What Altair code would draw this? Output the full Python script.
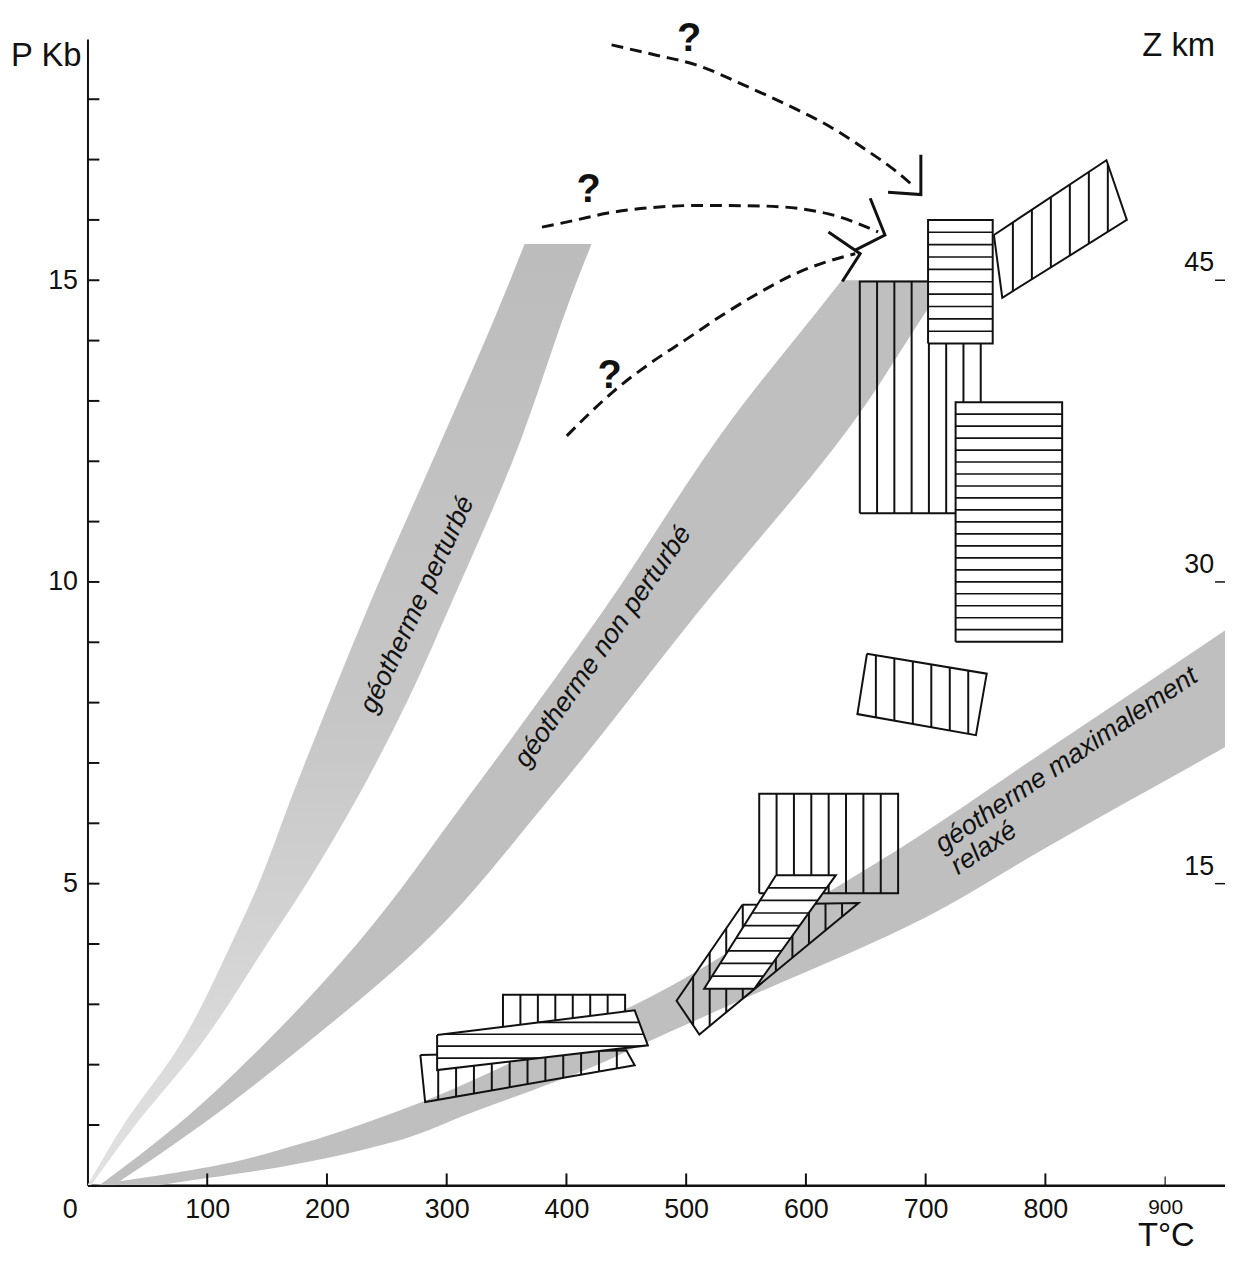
import altair as alt
import pandas as pd

FONT = "Liberation Sans"
INK = "#111111"
SHADE = "#bfbfbf"

# ---------------- axes ----------------
T_DOMAIN = [0, 950]
P_DOMAIN = [0, 19]
X_LABEL_VALUES = [0, 100, 200, 300, 400, 500, 600, 700, 800, 900]
X_TICK_VALUES = [100, 200, 300, 400, 500, 600, 700, 800]
X_SMALL_TICK_VALUES = [900]
Y_LABEL_VALUES = [5, 10, 15]
Y_TICK_VALUES = list(range(1, 19))
Z_LABELS = ["15", "30", "45"]
Z_AT_P = [5, 10, 15]

# ---------------- geotherm bands (P, left T, right T) ----------------
BAND1_P = [0, 1.0, 2.29, 4.0, 5.0, 6.41, 8.06, 9.7, 12.0, 15.0, 15.6]
BAND1_TL = [0, 30, 76, 120, 143, 170, 203, 237, 288, 353, 365]
BAND1_TR = [3, 40, 93, 150, 183, 225, 268, 305, 355, 409, 421]

BAND2_P = [0, 1.0, 2.29, 4.0, 6.41, 9.5, 12.8, 14.5, 15.0]
BAND2_TL = [10, 75, 145, 225, 317, 430, 542, 610, 630]
BAND2_TR = [22, 95, 179, 280, 386, 510, 645, 701, 718]

BAND3_P = [0, 0.12, 0.3, 0.7, 1.2, 2.0, 2.29, 3.0, 4.43, 5.58, 7.27, 9.21]
BAND3_TL = [5, 45, 100, 180, 255, 350, 380, 458, 582, 678, 805, 951]
BAND3_TR = [60, 100, 160, 252, 320, 426, 458, 538, 699, 799, 951, 1126]

LBL_TEXT = ["géotherme perturbé", "géotherme non perturbé",
            "géotherme maximalement", "relaxé"]
LBL_T = [240, 367, 714, 727]
LBL_P = [7.8, 6.9, 5.5, 5.14]
LBL_ANGLE = [295, 305, 326, 326]

# ---------------- hatched P-T domains (vertices) ----------------
A_T = [645, 746, 746, 645];   A_P = [11.14, 11.14, 14.98, 14.98]
B_T = [702, 756, 756, 702];   B_P = [13.95, 13.95, 16.0, 16.0]
K_T = [757, 851, 868, 764];   K_P = [15.75, 16.99, 16.0, 14.71]
C_T = [725, 814, 814, 725];   C_P = [9.01, 9.01, 12.98, 12.98]
D_T = [651, 751, 742, 643];   D_P = [8.81, 8.48, 7.46, 7.81]
E_T = [561, 677, 677, 561];   E_P = [4.84, 4.84, 6.49, 6.49]
F_T = [575, 625, 557, 515];   F_P = [5.14, 5.14, 3.26, 3.26]
G_T = [547, 644, 511, 492];   G_P = [4.65, 4.68, 2.5, 3.06]
H1_T = [347, 449, 449, 347];  H1_P = [2.55, 2.55, 3.16, 3.16]
H2_T = [292, 457, 468, 292];  H2_P = [2.49, 2.9, 2.32, 1.91]
H3_T = [278, 450, 457, 282];  H3_P = [2.16, 2.24, 1.99, 1.38]

# (name, T, P, number of hatch strips)
VERTICAL_SHAPES = [("A", A_T, A_P, 7), ("K", K_T, K_P, 7), ("D", D_T, D_P, 7),
                   ("E", E_T, E_P, 8), ("G", G_T, G_P, 11),
                   ("H1", H1_T, H1_P, 7), ("H3", H3_T, H3_P, 12)]
HORIZONTAL_SHAPES = [("B", B_T, B_P, 10), ("C", C_T, C_P, 20),
                     ("F", F_T, F_P, 9), ("H2", H2_T, H2_P, 5)]

# ---------------- dashed P-T paths ----------------
C1_T = [437.7, 475.1, 508.3, 549.8, 591.4, 618.8, 649.5, 674.4, 691.0]
C1_P = [18.90, 18.73, 18.57, 18.22, 17.84, 17.56, 17.17, 16.82, 16.54]
C2_T = [379.6, 408.6, 433.6, 475.1, 508.3, 564.0, 618.8, 660.3]
C2_P = [15.88, 16.0, 16.11, 16.21, 16.24, 16.23, 16.10, 15.80]
C3_T = [400.3, 417.0, 439.4, 466.8, 500.0, 530.0, 558.1, 591.4, 616.3, 641.2]
C3_P = [12.42, 12.75, 13.16, 13.58, 14.02, 14.42, 14.76, 15.11, 15.30, 15.44]

AH1_T = [696, 696, 668.6];   AH1_P = [17.08, 16.42, 16.46]
AH2_T = [653.7, 666, 641.2]; AH2_P = [16.36, 15.75, 15.5]
AH3_T = [618.8, 645.3, 630.4]; AH3_P = [15.8, 15.44, 14.98]

Q_T = [502.5, 418.6, 436.0]
Q_P = [19.0, 16.5, 13.41]


# ---------------- geometry helpers ----------------
def cut_at_T(Ts, Ps, t):
    vals = []
    n = len(Ts)
    for i in range(n):
        t1, p1, t2, p2 = Ts[i], Ps[i], Ts[(i + 1) % n], Ps[(i + 1) % n]
        if abs(t2 - t1) < 1e-9:
            if abs(t - t1) < 1e-9:
                vals += [p1, p2]
            continue
        if min(t1, t2) - 1e-9 <= t <= max(t1, t2) + 1e-9:
            vals.append(p1 + (t - t1) / (t2 - t1) * (p2 - p1))
    return min(vals), max(vals)


def cut_at_P(Ts, Ps, p):
    vals = []
    n = len(Ts)
    for i in range(n):
        t1, p1, t2, p2 = Ts[i], Ps[i], Ts[(i + 1) % n], Ps[(i + 1) % n]
        if abs(p2 - p1) < 1e-9:
            if abs(p - p1) < 1e-9:
                vals += [t1, t2]
            continue
        if min(p1, p2) - 1e-9 <= p <= max(p1, p2) + 1e-9:
            vals.append(t1 + (p - p1) / (p2 - p1) * (t2 - t1))
    return min(vals), max(vals)


# ---------------- tables ----------------
def band_df(name, Ps, TL, TR):
    return pd.DataFrame({"band": name, "P": Ps, "TL": TL, "TR": TR})


band1_df = band_df("b1", BAND1_P, BAND1_TL, BAND1_TR)
band23_df = pd.concat([band_df("b2", BAND2_P, BAND2_TL, BAND2_TR),
                       band_df("b3", BAND3_P, BAND3_TL, BAND3_TR)], ignore_index=True)

labels_df = pd.DataFrame({"text": LBL_TEXT, "T": LBL_T, "P": LBL_P, "angle": LBL_ANGLE})


def outline_rows(shapes):
    rows = []
    for name, Ts, Ps, _ in shapes:
        for i, (t, p) in enumerate(list(zip(Ts, Ps)) + [(Ts[0], Ps[0])]):
            rows.append({"shape": name, "i": i, "T": t, "P": p})
    return pd.DataFrame(rows)


def vhatch_rows(shapes):
    rows = []
    for name, Ts, Ps, n in shapes:
        t0, t1 = min(Ts), max(Ts)
        for k in range(1, n):
            t = t0 + (t1 - t0) * k / n
            lo, hi = cut_at_T(Ts, Ps, t)
            rows.append({"shape": name, "T": t, "T2": t, "P": lo, "P2": hi})
    return pd.DataFrame(rows)


def hhatch_rows(shapes):
    rows = []
    for name, Ts, Ps, n in shapes:
        p0, p1 = min(Ps), max(Ps)
        for k in range(1, n):
            p = p0 + (p1 - p0) * k / n
            lo, hi = cut_at_P(Ts, Ps, p)
            rows.append({"shape": name, "T": lo, "T2": hi, "P": p, "P2": p})
    return pd.DataFrame(rows)


def fill_rows(shapes):
    rows = []
    for name, Ts, Ps, _ in shapes:
        for t in sorted(set(Ts)):
            lo, hi = cut_at_T(Ts, Ps, t)
            rows.append({"shape": name, "T": t, "lo": lo, "hi": hi})
    return pd.DataFrame(rows)


curve_rows = []
for name, Ts, Ps in [("c1", C1_T, C1_P), ("c2", C2_T, C2_P), ("c3", C3_T, C3_P)]:
    for i, (t, p) in enumerate(zip(Ts, Ps)):
        curve_rows.append({"curve": name, "i": i, "T": t, "P": p})
curves_df = pd.DataFrame(curve_rows)

head_rows = []
for name, Ts, Ps in [("h1", AH1_T, AH1_P), ("h2", AH2_T, AH2_P), ("h3", AH3_T, AH3_P)]:
    for i, (t, p) in enumerate(zip(Ts, Ps)):
        head_rows.append({"head": name, "i": i, "T": t, "P": p})
heads_df = pd.DataFrame(head_rows)

q_df = pd.DataFrame({"T": Q_T, "P": Q_P, "text": ["?"] * len(Q_T)})

# ---------------- scales & encodings ----------------
xs = alt.Scale(domain=T_DOMAIN, nice=False, zero=False)
ys = alt.Scale(domain=P_DOMAIN, nice=False, zero=False)
W, H = 1145, 1154


def X(f):
    return alt.X(f, type="quantitative", scale=xs)


def Y(f):
    return alt.Y(f, type="quantitative", scale=ys)


x_axis = alt.Axis(
    values=X_LABEL_VALUES, title=None, grid=False, ticks=False, labelFlush=False, format="d",
    labelFontSize={"condition": {"test": "datum.value === 900", "value": 21}, "value": 27},
    labelOffset={"condition": {"test": "datum.value === 0", "value": -18}, "value": 0},
    labelPadding=11, domainWidth=2.5, domainColor=INK, labelColor=INK, labelFont=FONT,
)
y_axis = alt.Axis(
    values=Y_LABEL_VALUES, title=None, grid=False, ticks=False, labelFontSize=27, format="d",
    labelPadding=10, domainWidth=2, domainColor=INK, labelColor=INK, labelFont=FONT,
)

band1_fill = alt.LinearGradient(
    gradient="linear", x1=0, x2=0, y1=0, y2=1,
    stops=[alt.GradientStop(color="#bcbcbc", offset=0),
           alt.GradientStop(color="#c6c6c6", offset=0.5),
           alt.GradientStop(color="#e2e2e2", offset=1)])

band1 = alt.Chart(band1_df).mark_area(
    orient="horizontal", color=band1_fill, clip=True, interpolate="monotone").encode(
    y=alt.Y("P:Q", scale=ys, axis=y_axis),
    x=alt.X("TL:Q", scale=xs, axis=x_axis),
    x2="TR:Q",
)
band23 = alt.Chart(band23_df).mark_area(
    orient="horizontal", color=SHADE, clip=True, interpolate="monotone").encode(
    y=Y("P"), x=X("TL"), x2="TR:Q", detail="band:N")

band_labels = alt.Chart(labels_df).mark_text(
    font=FONT, fontSize=27, fontStyle="italic", align="left", baseline="alphabetic", color=INK
).encode(x=X("T"), y=Y("P"), text="text:N", angle=alt.Angle("angle:Q", scale=None))

v_outline = alt.Chart(outline_rows(VERTICAL_SHAPES)).mark_line(
    color=INK, strokeWidth=2, strokeJoin="miter").encode(
    x=X("T"), y=Y("P"), detail="shape:N", order="i:Q")
v_hatch = alt.Chart(vhatch_rows(VERTICAL_SHAPES)).mark_rule(color=INK, strokeWidth=2).encode(
    x=X("T"), x2="T2:Q", y=Y("P"), y2="P2:Q")

h_fill = alt.Chart(fill_rows(HORIZONTAL_SHAPES)).mark_area(orient="vertical", color="white").encode(
    x=X("T"), y=Y("lo"), y2="hi:Q", detail="shape:N")
h_hatch = alt.Chart(hhatch_rows(HORIZONTAL_SHAPES)).mark_rule(color=INK, strokeWidth=1.7).encode(
    x=X("T"), x2="T2:Q", y=Y("P"), y2="P2:Q")
h_outline = alt.Chart(outline_rows(HORIZONTAL_SHAPES)).mark_line(
    color=INK, strokeWidth=2, strokeJoin="miter").encode(
    x=X("T"), y=Y("P"), detail="shape:N", order="i:Q")

curves = alt.Chart(curves_df).mark_line(
    color=INK, strokeWidth=3, strokeDash=[12, 7], interpolate="monotone").encode(
    x=X("T"), y=Y("P"), detail="curve:N", order="i:Q")
heads = alt.Chart(heads_df).mark_line(color=INK, strokeWidth=3, strokeJoin="miter").encode(
    x=X("T"), y=Y("P"), detail="head:N", order="i:Q")
qmarks = alt.Chart(q_df).mark_text(
    font=FONT, fontSize=40, fontWeight="bold", align="center", baseline="middle", color=INK
).encode(x=X("T"), y=Y("P"), text="text:N")

# inward ticks
y_ticks = alt.Chart(pd.DataFrame({"P": Y_TICK_VALUES})).mark_rule(color=INK, strokeWidth=2).encode(
    y=Y("P"), x=alt.value(0), x2=alt.value(12))
x_ticks = alt.Chart(pd.DataFrame({"T": X_TICK_VALUES})).mark_rule(color=INK, strokeWidth=2).encode(
    x=X("T"), y=alt.value(H), y2=alt.value(H - 12))
x_small_ticks = alt.Chart(pd.DataFrame({"T": X_SMALL_TICK_VALUES})).mark_rule(
    color=INK, strokeWidth=1.2).encode(x=X("T"), y=alt.value(H), y2=alt.value(H - 9))

# depth scale on the right
z_df = pd.DataFrame({"P": Z_AT_P, "text": Z_LABELS})
z_ticks = alt.Chart(z_df).mark_rule(color=INK, strokeWidth=1.5).encode(
    y=Y("P"), x=alt.value(W - 10), x2=alt.value(W))
z_text = alt.Chart(z_df).mark_text(
    font=FONT, fontSize=27, align="right", baseline="alphabetic", dy=-9, color=INK
).encode(y=Y("P"), x=alt.value(W - 11), text="text:N")

# axis titles
one = pd.DataFrame({"k": [0]})
p_title = alt.Chart(one).mark_text(
    text="P Kb", font=FONT, fontSize=33, align="right", baseline="alphabetic", color=INK
).encode(x=alt.value(-6), y=alt.value(27))
z_title = alt.Chart(one).mark_text(
    text="Z km", font=FONT, fontSize=33, align="right", baseline="alphabetic", color=INK
).encode(x=alt.value(W - 10), y=alt.value(17))
t_title = alt.Chart(one).mark_text(
    text="T°C", font=FONT, fontSize=33, align="center", baseline="alphabetic", color=INK
).encode(x=alt.value(1086), y=alt.value(H + 61))

chart = alt.layer(
    band1, band23, band_labels, v_outline, v_hatch, h_fill, h_hatch, h_outline,
    curves, heads, qmarks, y_ticks, x_ticks, x_small_ticks, z_ticks, z_text,
    p_title, z_title, t_title,
).properties(
    width=W, height=H,
    background="white",
    autosize=alt.AutoSizeParams(type="none"),
    padding={"left": 80, "top": 27, "right": 0, "bottom": 63},
).configure_view(stroke=None)

chart.save("out.html", embed_options={"renderer": "svg", "actions": False})
